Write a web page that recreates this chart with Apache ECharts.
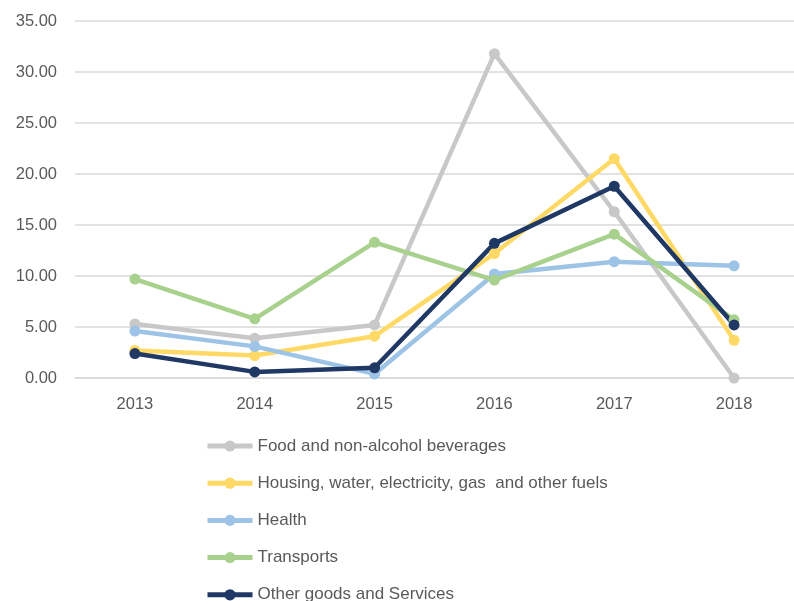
<!DOCTYPE html>
<html><head><meta charset="utf-8">
<script src="https://cdn.jsdelivr.net/npm/echarts@6/dist/echarts.min.js"></script>
<style>html,body{margin:0;padding:0;background:#fff;}#c{width:794px;height:601px;}</style>
</head><body><div id="c"></div>
<script>
const years = ['2013','2014','2015','2016','2017','2018'];
const seriesNames = ['Food and non-alcohol beverages','Housing, water, electricity, gas  and other fuels','Health','Transports','Other goods and Services'];
const food = [5.3, 3.9, 5.2, 31.8, 16.3, 0.0];
const housing = [2.7, 2.2, 4.1, 12.2, 21.5, 3.7];
const health = [4.6, 3.1, 0.4, 10.2, 11.4, 11.0];
const transports = [9.7, 5.8, 13.3, 9.6, 14.1, 5.7];
const other = [2.4, 0.6, 1.0, 13.2, 18.8, 5.2];
const colors = ['#C8C8C8','#FFD966','#9DC3E6','#A9D18E','#1F3864'];
const allData = [food, housing, health, transports, other];

const chart = echarts.init(document.getElementById('c'), null, {renderer:'canvas'});
const font = 'Liberation Sans, Arial, sans-serif';
chart.setOption({
  animation:false,
  textStyle:{fontFamily:font},
  grid:{left:75, right:-11, top:21, bottom:223},
  xAxis:{type:'category', data:years, boundaryGap:true,
    axisLine:{show:true, lineStyle:{color:'#D9D9D9', width:1.5}},
    axisTick:{show:false},
    axisLabel:{color:'#595959', fontSize:16.5, margin:18, fontFamily:font}},
  yAxis:{type:'value', min:0, max:35, interval:5,
    axisLine:{show:false}, axisTick:{show:false},
    splitLine:{lineStyle:{color:'#D9D9D9', width:1.5}},
    axisLabel:{color:'#595959', fontSize:16.5, margin:18, fontFamily:font, formatter:v=>v.toFixed(2)}},
  legend:{orient:'vertical', left:205, top:437.5, height:300, padding:0, itemWidth:45, itemHeight:14, itemGap:20.2,
    lineStyle:{width:5}, itemStyle:{borderWidth:0},
    textStyle:{color:'#595959', fontSize:17, fontFamily:font},
    data:seriesNames},
  series: seriesNames.map((n,i)=>({
    name:n, type:'line', data:allData[i], symbol:'circle', symbolSize:11,
    lineStyle:{color:colors[i], width:4.5}, itemStyle:{color:colors[i]}
  }))
});
</script></body></html>
